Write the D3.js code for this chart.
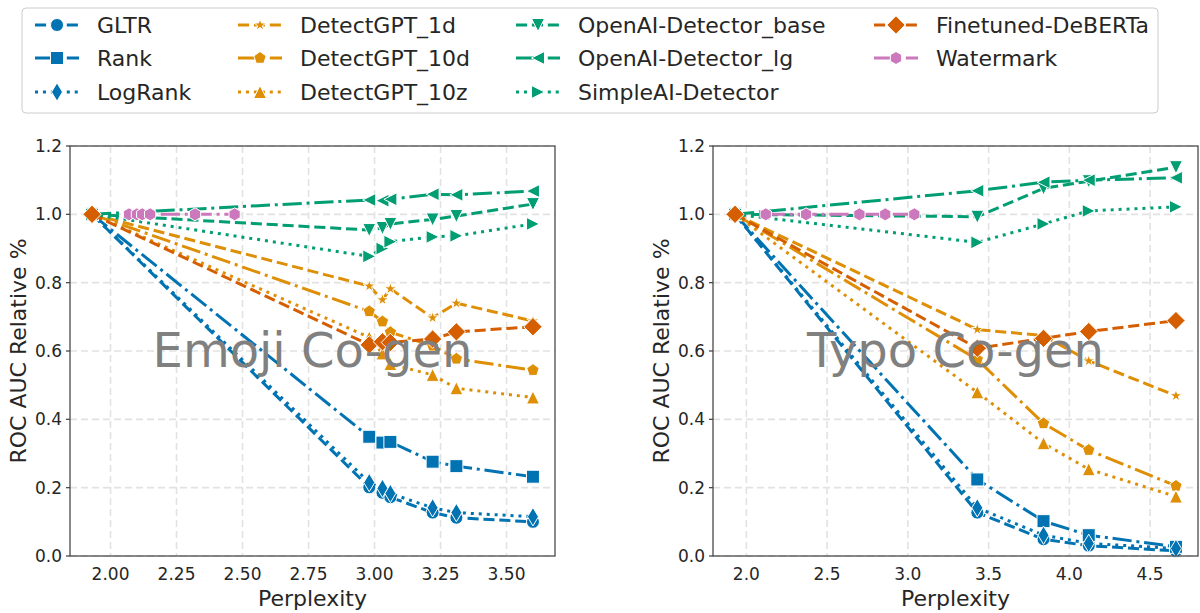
<!DOCTYPE html>
<html>
<head>
<meta charset="utf-8">
<script src="https://cdn.jsdelivr.net/npm/d3@7"></script>
<style>
  body { margin: 0; background: #fff; }
  svg { display: block; font-family: "DejaVu Sans", sans-serif; }
</style>
</head>
<body>
<svg id="chart" width="1200" height="613"></svg>
<script>
// ---- Methods and styling order ----
const methods = ["GLTR", "Rank", "LogRank", "DetectGPT_1d", "DetectGPT_10d", "DetectGPT_10z",
  "OpenAI-Detector_base", "OpenAI-Detector_lg", "SimpleAI-Detector", "Finetuned-DeBERTa", "Watermark"];
const methodColors = ["#0173B2", "#0173B2", "#0173B2", "#DE8F05", "#DE8F05", "#DE8F05",
  "#029E73", "#029E73", "#029E73", "#D55E00", "#CC78BC"];
const methodDashes = ["dashed", "dashdot", "dotted", "dashed", "dashdot", "dotted",
  "dashed", "dashdot", "dotted", "dashed", "dashdot"];
const methodMarkers = ["o", "s", "d", "*", "p", "^", "v", "<", ">", "D", "h"];

// ---- Emoji co-generation ----
const emojiPerplexity = [1.93, 2.98, 3.03, 3.06, 3.22, 3.31, 3.60];
const emojiWatermarkPerplexity = [2.07, 2.10, 2.12, 2.15, 2.32, 2.47];
const emojiGLTR = [1.0, 0.201, 0.185, 0.172, 0.127, 0.112, 0.100];
const emojiRank = [1.0, 0.349, 0.332, 0.334, 0.276, 0.263, 0.232];
const emojiLogRank = [1.0, 0.215, 0.198, 0.183, 0.141, 0.127, 0.115];
const emojiDetectGPT1d = [1.0, 0.790, 0.750, 0.782, 0.697, 0.740, 0.688];
const emojiDetectGPT10d = [1.0, 0.716, 0.686, 0.655, 0.615, 0.577, 0.544];
const emojiDetectGPT10z = [1.0, 0.640, 0.593, 0.562, 0.530, 0.491, 0.464];
const emojiOpenAIBase = [1.0, 0.954, 0.960, 0.972, 0.985, 0.995, 1.030];
const emojiOpenAILarge = [1.0, 1.042, 1.040, 1.044, 1.059, 1.057, 1.068];
const emojiSimpleAI = [1.0, 0.877, 0.900, 0.920, 0.934, 0.937, 0.972];
const emojiDeBERTa = [1.0, 0.618, 0.627, 0.625, 0.635, 0.656, 0.671];
const emojiWatermark = [1.0, 1.0, 1.0, 1.0, 1.0, 1.0];

// ---- Typo co-generation ----
const typoPerplexity = [1.93, 3.43, 3.84, 4.12, 4.66];
const typoWatermarkPerplexity = [2.12, 2.37, 2.70, 2.86, 3.04];
const typoGLTR = [1.0, 0.127, 0.049, 0.030, 0.015];
const typoRank = [1.0, 0.224, 0.102, 0.061, 0.027];
const typoLogRank = [1.0, 0.141, 0.061, 0.037, 0.022];
const typoDetectGPT1d = [1.0, 0.663, 0.645, 0.571, 0.469];
const typoDetectGPT10d = [1.0, 0.575, 0.388, 0.310, 0.205];
const typoDetectGPT10z = [1.0, 0.479, 0.330, 0.254, 0.174];
const typoOpenAIBase = [1.0, 0.993, 1.076, 1.097, 1.138];
const typoOpenAILarge = [1.0, 1.069, 1.094, 1.100, 1.107];
const typoSimpleAI = [1.0, 0.918, 0.972, 1.010, 1.022];
const typoDeBERTa = [1.0, 0.608, 0.637, 0.657, 0.689];
const typoWatermark = [1.0, 1.0, 1.0, 1.0, 1.0];

// ---- Axis ticks ----
const yTicks = [0.0, 0.2, 0.4, 0.6, 0.8, 1.0, 1.2];
const emojiXTicks = [2.00, 2.25, 2.50, 2.75, 3.00, 3.25, 3.50];
const typoXTicks = [2.0, 2.5, 3.0, 3.5, 4.0, 4.5];

// ---- Drawing ----
const LW = 3;
const MS = 13;
const dashArrays = {
  dashed: [3.7 * LW, 1.6 * LW].join(","),
  dashdot: [6.4 * LW, 1.6 * LW, 1 * LW, 1.6 * LW].join(","),
  dotted: [1 * LW, 1.65 * LW].join(",")
};

function polygon(n, r, innerR) {
  const pts = [];
  const count = innerR ? n * 2 : n;
  for (let k = 0; k < count; k++) {
    const a = -Math.PI / 2 + k * 2 * Math.PI / count;
    const rad = innerR && k % 2 === 1 ? innerR : r;
    pts.push([rad * Math.cos(a), rad * Math.sin(a)]);
  }
  return "M" + pts.map(p => p[0].toFixed(2) + "," + p[1].toFixed(2)).join("L") + "Z";
}

function markerPath(kind, ms) {
  const r = ms / 2;
  const h = ms * Math.SQRT1_2;
  switch (kind) {
    case "o": return `M${r},0A${r},${r} 0 1,1 ${-r},0A${r},${r} 0 1,1 ${r},0Z`;
    case "s": return `M${-r},${-r}H${r}V${r}H${-r}Z`;
    case "d": { const w = 0.6 * h; return `M0,${-h}L${w},0L0,${h}L${-w},0Z`; }
    case "D": return `M0,${-h}L${h},0L0,${h}L${-h},0Z`;
    case "^": return `M0,${-r}L${r},${r}L${-r},${r}Z`;
    case "v": return `M0,${r}L${r},${-r}L${-r},${-r}Z`;
    case "<": return `M${-r},0L${r},${-r}L${r},${r}Z`;
    case ">": return `M${r},0L${-r},${-r}L${-r},${r}Z`;
    case "*": return polygon(5, r, r * 0.381966);
    case "p": return polygon(5, r);
    case "h": return polygon(6, r);
  }
}

const svg = d3.select("#chart");
const plotTop = 146, plotBottom = 556;
const y = d3.scaleLinear().domain([0, 1.2]).range([plotBottom, plotTop]);

function buildSeries(xs, wxs, valueLists) {
  return valueLists.map((vals, i) => ({
    name: methods[i],
    points: (i === methods.length - 1 ? wxs : xs).map((xv, j) => [xv, vals[j]])
  }));
}

const panels = [
  {
    title: "Emoji Co-gen", left: 70, right: 555, xTicks: emojiXTicks, fmt: d3.format(".2f"),
    series: buildSeries(emojiPerplexity, emojiWatermarkPerplexity, [emojiGLTR, emojiRank, emojiLogRank,
      emojiDetectGPT1d, emojiDetectGPT10d, emojiDetectGPT10z, emojiOpenAIBase, emojiOpenAILarge,
      emojiSimpleAI, emojiDeBERTa, emojiWatermark])
  },
  {
    title: "Typo Co-gen", left: 713, right: 1198, xTicks: typoXTicks, fmt: d3.format(".1f"),
    series: buildSeries(typoPerplexity, typoWatermarkPerplexity, [typoGLTR, typoRank, typoLogRank,
      typoDetectGPT1d, typoDetectGPT10d, typoDetectGPT10z, typoOpenAIBase, typoOpenAILarge,
      typoSimpleAI, typoDeBERTa, typoWatermark])
  }
];

panels.forEach(p => {
  const allX = p.series.flatMap(s => s.points.map(d => d[0]));
  const [lo, hi] = d3.extent(allX);
  const pad = (hi - lo) * 0.05;
  const x = d3.scaleLinear().domain([lo - pad, hi + pad]).range([p.left, p.right]);
  const g = svg.append("g");

  // grid
  g.append("g").selectAll("line").data(p.xTicks).join("line")
    .attr("x1", d => x(d)).attr("x2", d => x(d))
    .attr("y1", plotTop).attr("y2", plotBottom)
    .attr("stroke", "#e2e2e2").attr("stroke-width", 1.6).attr("stroke-dasharray", "7,4");
  g.append("g").selectAll("line").data(yTicks).join("line")
    .attr("x1", p.left).attr("x2", p.right)
    .attr("y1", d => y(d)).attr("y2", d => y(d))
    .attr("stroke", "#e2e2e2").attr("stroke-width", 1.6).attr("stroke-dasharray", "7,4");

  // series
  const line = d3.line().x(d => x(d[0])).y(d => y(d[1]));
  p.series.forEach((s, i) => {
    g.append("path").attr("d", line(s.points))
      .attr("fill", "none").attr("stroke", methodColors[i]).attr("stroke-width", LW)
      .attr("stroke-linejoin", "round").attr("stroke-linecap", "butt")
      .attr("stroke-dasharray", dashArrays[methodDashes[i]]);
    g.append("g").selectAll("path").data(s.points).join("path")
      .attr("transform", d => `translate(${x(d[0])},${y(d[1])})`)
      .attr("d", markerPath(methodMarkers[i], MS))
      .attr("fill", methodColors[i]).attr("stroke", "#fff").attr("stroke-width", 1);
  });

  // panel caption
  g.append("text").attr("x", (p.left + p.right) / 2).attr("y", 367)
    .attr("text-anchor", "middle").attr("font-size", 48).attr("fill", "#808080")
    .text(p.title);

  // frame
  g.append("rect").attr("x", p.left).attr("y", plotTop)
    .attr("width", p.right - p.left).attr("height", plotBottom - plotTop)
    .attr("fill", "none").attr("stroke", "#444").attr("stroke-width", 1.25);

  // y ticks and labels
  const yt = g.append("g").selectAll("g").data(yTicks).join("g");
  yt.append("line").attr("x1", p.left - 4).attr("x2", p.left)
    .attr("y1", d => y(d)).attr("y2", d => y(d)).attr("stroke", "#444").attr("stroke-width", 1.25);
  yt.append("text").attr("x", p.left - 8).attr("y", d => y(d) + 6)
    .attr("text-anchor", "end").attr("font-size", 17).attr("fill", "#262626")
    .text(d => d3.format(".1f")(d));

  // x tick labels
  g.append("g").selectAll("text").data(p.xTicks).join("text")
    .attr("x", d => x(d)).attr("y", 580)
    .attr("text-anchor", "middle").attr("font-size", 17).attr("fill", "#262626")
    .text(d => p.fmt(d));

  // axis titles
  g.append("text").attr("x", (p.left + p.right) / 2).attr("y", 606)
    .attr("text-anchor", "middle").attr("font-size", 22).attr("fill", "#262626")
    .text("Perplexity");
  g.append("text").attr("transform", `translate(${p.left - 44},${(plotTop + plotBottom) / 2}) rotate(-90)`)
    .attr("text-anchor", "middle").attr("font-size", 22).attr("fill", "#262626")
    .text("ROC AUC Relative %");
});

// ---- Legend ----
const legendCols = [[0, 1, 2], [3, 4, 5], [6, 7, 8], [9, 10]];
const legendHandleX = [35, 238, 516, 874];
const legendRowY = [25, 58, 92];
const legend = svg.append("g");
legend.append("rect").attr("x", 22).attr("y", 8).attr("width", 1136).attr("height", 105)
  .attr("rx", 4).attr("fill", "#fff").attr("fill-opacity", 0.8)
  .attr("stroke", "#cccccc").attr("stroke-width", 1);
legendCols.forEach((col, c) => {
  col.forEach((mi, r) => {
    const x0 = legendHandleX[c], yy = legendRowY[r];
    legend.append("line").attr("x1", x0).attr("x2", x0 + 44).attr("y1", yy).attr("y2", yy)
      .attr("stroke", methodColors[mi]).attr("stroke-width", LW)
      .attr("stroke-dasharray", dashArrays[methodDashes[mi]]);
    legend.append("path").attr("transform", `translate(${x0 + 22},${yy})`)
      .attr("d", markerPath(methodMarkers[mi], MS))
      .attr("fill", methodColors[mi]).attr("stroke", "#fff").attr("stroke-width", 1);
    legend.append("text").attr("x", x0 + 62).attr("y", yy + 8)
      .attr("font-size", 22).attr("fill", "#262626").text(methods[mi]);
  });
});
</script>
</body>
</html>
